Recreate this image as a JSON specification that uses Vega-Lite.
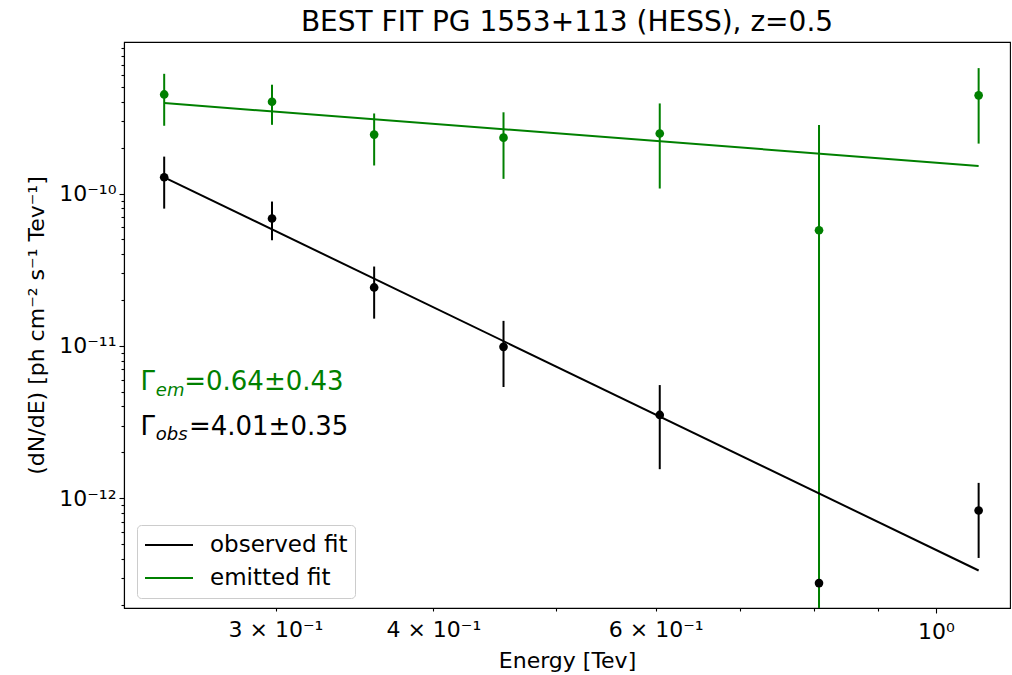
{
  "$schema": "https://vega.github.io/schema/vega-lite/v6.json",
  "width": 886,
  "height": 566,
  "autosize": {"type": "none"},
  "padding": {"left": 124, "top": 42, "right": 2, "bottom": 67},
  "background": "white",
  "title": {"text": "BEST FIT PG 1553+113 (HESS), z=0.5", "font": "DejaVu Sans", "fontSize": 28, "fontWeight": "normal", "color": "black", "offset": 0, "anchor": "middle"},
  "config": {
    "view": {"stroke": "black", "strokeWidth": 1.1},
    "axis": {"domainColor": "black", "domainWidth": 1.1, "tickColor": "black", "tickWidth": 1.1, "labelFont": "DejaVu Sans", "labelFontSize": 22, "labelColor": "black", "titleFont": "DejaVu Sans", "titleFontSize": 22, "titleFontWeight": "normal", "titleColor": "black", "grid": false},
    "legend": {"labelFont": "DejaVu Sans", "labelFontSize": 23, "labelColor": "black"}
  },
  "datasets": {
    "pts": [
      {"series": "emitted", "energy": 0.2449, "flux": 4.48e-10, "lo": 2.79e-10, "hi": 6.12e-10},
      {"series": "emitted", "energy": 0.2981, "flux": 4.01e-10, "lo": 2.83e-10, "hi": 5.19e-10},
      {"series": "emitted", "energy": 0.3591, "flux": 2.44e-10, "lo": 1.53e-10, "hi": 3.36e-10},
      {"series": "emitted", "energy": 0.4546, "flux": 2.33e-10, "lo": 1.25e-10, "hi": 3.42e-10},
      {"series": "emitted", "energy": 0.6044, "flux": 2.48e-10, "lo": 1.08e-10, "hi": 3.91e-10},
      {"series": "emitted", "energy": 0.8080, "flux": 5.75e-11, "lo": 1e-15, "hi": 2.82e-10},
      {"series": "emitted", "energy": 1.0809, "flux": 4.42e-10, "lo": 2.13e-10, "hi": 6.67e-10},
      {"series": "observed", "energy": 0.2449, "flux": 1.28e-10, "lo": 7.97e-11, "hi": 1.75e-10},
      {"series": "observed", "energy": 0.2981, "flux": 6.86e-11, "lo": 4.94e-11, "hi": 8.87e-11},
      {"series": "observed", "energy": 0.3591, "flux": 2.42e-11, "lo": 1.51e-11, "hi": 3.32e-11},
      {"series": "observed", "energy": 0.4546, "flux": 9.86e-12, "lo": 5.37e-12, "hi": 1.46e-11},
      {"series": "observed", "energy": 0.6044, "flux": 3.52e-12, "lo": 1.55e-12, "hi": 5.53e-12},
      {"series": "observed", "energy": 0.8080, "flux": 2.77e-13, "lo": null, "hi": null},
      {"series": "observed", "energy": 1.0809, "flux": 8.30e-13, "lo": 4.05e-13, "hi": 1.26e-12}
    ],
    "fits": [
      {"fit": "observed fit", "energy": 0.2449, "flux": 1.28e-10},
      {"fit": "observed fit", "energy": 1.0809, "flux": 3.35e-13},
      {"fit": "emitted fit", "energy": 0.2449, "flux": 3.93e-10},
      {"fit": "emitted fit", "energy": 1.0809, "flux": 1.52e-10}
    ],
    "notes": [
      {"series": "emitted", "part": "main", "energy": 0.2345, "flux": 5.13e-12, "text": "Γ"},
      {"series": "emitted", "part": "sub", "energy": 0.2412, "flux": 4.72e-12, "text": "em"},
      {"series": "emitted", "part": "main", "energy": 0.2540, "flux": 5.13e-12, "text": "=0.64±0.43"},
      {"series": "observed", "part": "main", "energy": 0.2345, "flux": 2.60e-12, "text": "Γ"},
      {"series": "observed", "part": "sub", "energy": 0.2412, "flux": 2.41e-12, "text": "obs"},
      {"series": "observed", "part": "main", "energy": 0.2562, "flux": 2.60e-12, "text": "=4.01±0.35"}
    ]
  },
  "encoding": {
    "x": {"field": "energy", "type": "quantitative",
      "scale": {"type": "log", "domain": [0.2276, 1.1445], "nice": false, "zero": false},
      "axis": {"title": "Energy [Tev]", "values": [0.3, 0.4, 0.5, 0.6, 0.7, 0.8, 0.9, 1],
        "labelExpr": "datum.value == 1 ? '10⁰' : datum.value == 0.3 ? '3 × 10⁻¹' : datum.value == 0.4 ? '4 × 10⁻¹' : datum.value == 0.6 ? '6 × 10⁻¹' : ''",
        "tickSize": {"condition": {"test": "datum.value == 1", "value": 5}, "value": 3},
        "labelPadding": 8, "titlePadding": 8, "labelFlush": false, "labelOverlap": false}},
    "y": {"field": "flux", "type": "quantitative",
      "scale": {"type": "log", "domain": [1.9e-13, 9.9e-10], "nice": false, "zero": false},
      "axis": {"title": "(dN/dE) [ph cm⁻²  s⁻¹  Tev⁻¹]",
        "values": [2e-13, 3e-13, 4e-13, 5e-13, 6e-13, 7e-13, 8e-13, 9e-13, 1e-12, 2e-12, 3e-12, 4e-12, 5e-12, 6e-12, 7e-12, 8e-12, 9e-12, 1e-11, 2e-11, 3e-11, 4e-11, 5e-11, 6e-11, 7e-11, 8e-11, 9e-11, 1e-10, 2e-10, 3e-10, 4e-10, 5e-10, 6e-10, 7e-10, 8e-10, 9e-10],
        "labelExpr": "datum.value == 1e-10 ? '10⁻¹⁰' : datum.value == 1e-11 ? '10⁻¹¹' : datum.value == 1e-12 ? '10⁻¹²' : ''",
        "tickSize": {"condition": {"test": "datum.value == 1e-10 || datum.value == 1e-11 || datum.value == 1e-12", "value": 5}, "value": 3},
        "labelPadding": 3, "titlePadding": 10, "labelOverlap": false, "labelFlush": false}}
  },
  "layer": [
    {"data": {"name": "pts"}, "transform": [{"filter": "datum.series == 'emitted'"}],
      "mark": {"type": "rule", "color": "green", "strokeWidth": 2, "clip": true},
      "encoding": {"y": {"field": "lo", "type": "quantitative"}, "y2": {"field": "hi"}}},
    {"data": {"name": "pts"}, "transform": [{"filter": "datum.series == 'emitted'"}],
      "mark": {"type": "point", "shape": "circle", "filled": true, "color": "green", "size": 75, "opacity": 1}},
    {"data": {"name": "pts"}, "transform": [{"filter": "datum.series == 'observed' && isValid(datum.lo)"}],
      "mark": {"type": "rule", "color": "black", "strokeWidth": 2, "clip": true},
      "encoding": {"y": {"field": "lo", "type": "quantitative"}, "y2": {"field": "hi"}}},
    {"data": {"name": "pts"}, "transform": [{"filter": "datum.series == 'observed'"}],
      "mark": {"type": "point", "shape": "circle", "filled": true, "color": "black", "size": 75, "opacity": 1}},
    {"data": {"name": "fits"},
      "mark": {"type": "line", "strokeWidth": 2},
      "encoding": {"color": {"field": "fit", "type": "nominal",
        "scale": {"domain": ["observed fit", "emitted fit"], "range": ["black", "green"]},
        "legend": {"title": null, "orient": "none", "legendX": 13, "legendY": 483, "symbolType": "stroke", "symbolSize": 2304, "symbolStrokeWidth": 2, "labelOffset": 16, "padding": 7, "strokeColor": "#cccccc", "fillColor": "white", "cornerRadius": 4, "rowPadding": 7, "clipHeight": 26, "labelFontSize": 23}}}},
    {"data": {"name": "notes"}, "transform": [{"filter": "datum.part == 'main' && datum.series == 'emitted'"}],
      "mark": {"type": "text", "align": "left", "baseline": "alphabetic", "font": "DejaVu Sans", "fontSize": 26, "color": "green"},
      "encoding": {"text": {"field": "text"}}},
    {"data": {"name": "notes"}, "transform": [{"filter": "datum.part == 'sub' && datum.series == 'emitted'"}],
      "mark": {"type": "text", "align": "left", "baseline": "alphabetic", "font": "DejaVu Sans", "fontSize": 18, "fontStyle": "italic", "color": "green"},
      "encoding": {"text": {"field": "text"}}},
    {"data": {"name": "notes"}, "transform": [{"filter": "datum.part == 'main' && datum.series == 'observed'"}],
      "mark": {"type": "text", "align": "left", "baseline": "alphabetic", "font": "DejaVu Sans", "fontSize": 26, "color": "black"},
      "encoding": {"text": {"field": "text"}}},
    {"data": {"name": "notes"}, "transform": [{"filter": "datum.part == 'sub' && datum.series == 'observed'"}],
      "mark": {"type": "text", "align": "left", "baseline": "alphabetic", "font": "DejaVu Sans", "fontSize": 18, "fontStyle": "italic", "color": "black"},
      "encoding": {"text": {"field": "text"}}}
  ]
}
